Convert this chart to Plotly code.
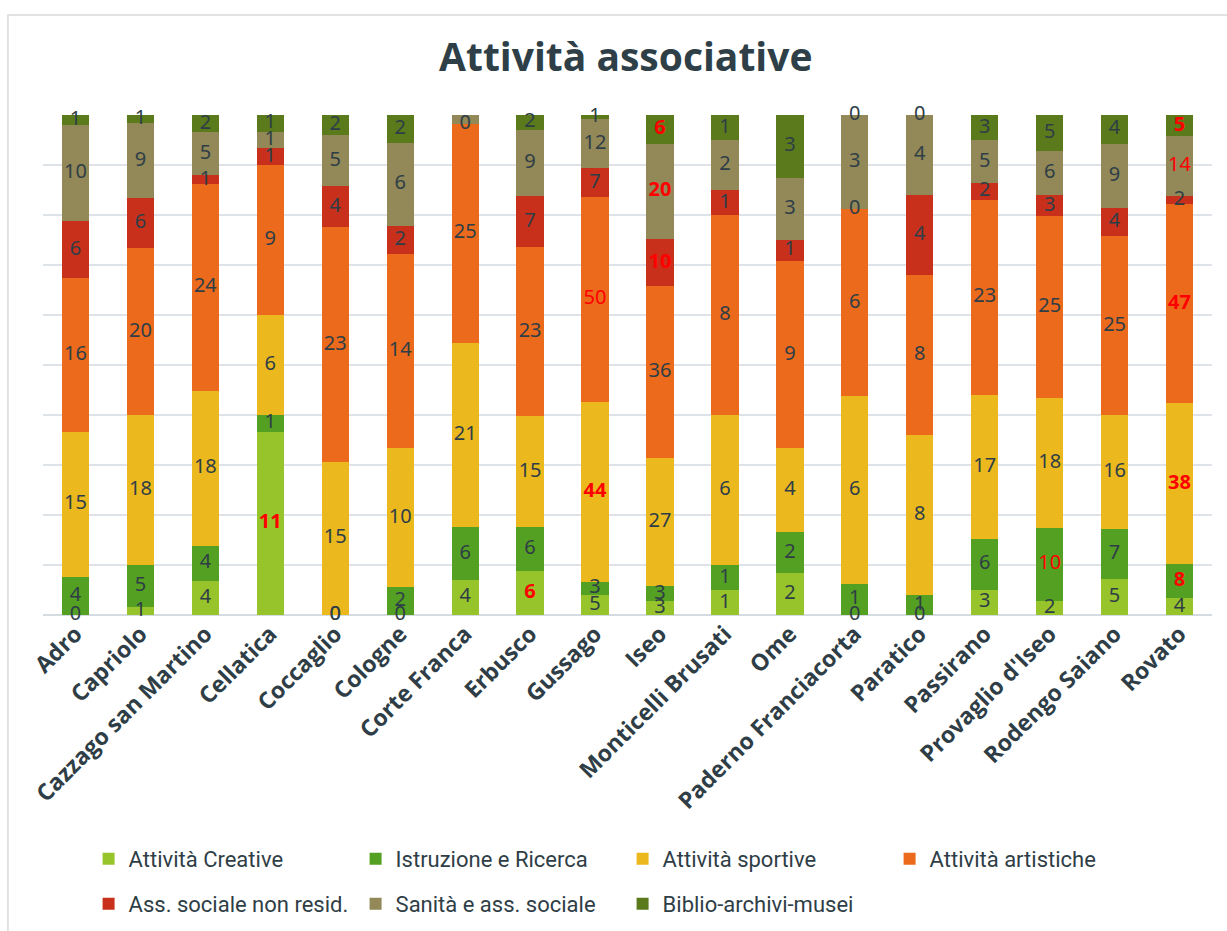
import plotly.graph_objects as go

towns = ["Adro", "Capriolo", "Cazzago san Martino", "Cellatica", "Coccaglio", "Cologne",
         "Corte Franca", "Erbusco", "Gussago", "Iseo", "Monticelli Brusati", "Ome",
         "Paderno Franciacorta", "Paratico", "Passirano", "Provaglio d'Iseo",
         "Rodengo Saiano", "Rovato"]

creative    = [0, 1, 4, 11, 0, 0, 4, 6, 5, 3, 1, 2, 0, 0, 3, 2, 5, 4]
istruzione  = [4, 5, 4, 1, 0, 2, 6, 6, 3, 3, 1, 2, 1, 1, 6, 10, 7, 8]
sportive    = [15, 18, 18, 6, 15, 10, 21, 15, 44, 27, 6, 4, 6, 8, 17, 18, 16, 38]
artistiche  = [16, 20, 24, 9, 23, 14, 25, 23, 50, 36, 8, 9, 6, 8, 23, 25, 25, 47]
ass_sociale = [6, 6, 1, 1, 4, 2, 0, 7, 7, 10, 1, 1, 0, 4, 2, 3, 4, 2]
sanita      = [10, 9, 5, 1, 5, 6, 1, 9, 12, 20, 2, 3, 3, 4, 5, 6, 9, 14]
biblio      = [1, 1, 2, 1, 2, 2, 0, 2, 1, 6, 1, 3, 0, 0, 3, 5, 4, 5]

series_names = ["Attività Creative", "Istruzione e Ricerca", "Attività sportive",
                "Attività artistiche", "Ass. sociale non resid.", "Sanità e ass. sociale",
                "Biblio-archivi-musei"]
series_values = [creative, istruzione, sportive, artistiche, ass_sociale, sanita, biblio]
series_colors = ["#97c42a", "#54a022", "#ebb81e", "#ec6a1c", "#c9301c", "#928858", "#5a7a1c"]

# labels shown in red: (town, series index) -> bold
red_labels = {
    ("Cellatica", 0): True, ("Erbusco", 0): True,
    ("Gussago", 2): True, ("Gussago", 3): False,
    ("Iseo", 4): True, ("Iseo", 5): True, ("Iseo", 6): True,
    ("Provaglio d'Iseo", 1): False,
    ("Rovato", 1): True, ("Rovato", 2): True, ("Rovato", 3): True,
    ("Rovato", 5): False, ("Rovato", 6): True,
}

# thin segments at the top of Corte Franca: labels lifted above the bar
lifted_labels = {
    ("Corte Franca", 5): "middle right",
    ("Corte Franca", 6): "middle left",
}

DARK = "#2f3e46"
totals = [sum(v[i] for v in series_values) for i in range(len(towns))]

fig = go.Figure()

# stacked 100% bars
for si, (name, vals, col) in enumerate(zip(series_names, series_values, series_colors)):
    fig.add_trace(go.Bar(x=towns, y=vals, name=name, marker=dict(color=col, line=dict(width=0)),
                         width=0.42, hoverinfo="x+y+name",
                         legend="legend" if si < 4 else "legend2"))

# value labels centred in each segment (percent scale)
cum = [0.0] * len(towns)
for si, vals in enumerate(series_values):
    ys, texts, colors, positions = [], [], [], []
    for i, t in enumerate(towns):
        pct = 100.0 * vals[i] / totals[i]
        key = (t, si)
        if key in lifted_labels:
            ys.append(103.6)
            positions.append(lifted_labels[key])
        else:
            ys.append(cum[i] + pct / 2)
            positions.append("middle center")
        cum[i] += pct
        if key in red_labels:
            txt = str(vals[i])
            texts.append(f"<b>{txt}</b>" if red_labels[key] else txt)
            colors.append("#ff0000")
        else:
            texts.append(str(vals[i]))
            colors.append(DARK)
    fig.add_trace(go.Scatter(x=towns, y=ys, mode="text", text=texts, textposition=positions,
                             textfont=dict(family="Noto Sans", size=20, color=colors),
                             showlegend=False, hoverinfo="skip", cliponaxis=False))

legend_font = dict(family="Roboto", size=22, color=DARK)
common_legend = dict(orientation="h", xanchor="left", yanchor="middle", font=legend_font,
                     entrywidth=222, entrywidthmode="pixels", traceorder="normal",
                     itemwidth=30, bgcolor="rgba(0,0,0,0)")

fig.update_layout(
    barmode="stack",
    barnorm="percent",
    width=1227, height=931,
    margin=dict(l=43, r=15, t=115, b=316, autoexpand=False),
    paper_bgcolor="white", plot_bgcolor="white",
    title=dict(text="<b>Attività associative</b>", x=0.51, xanchor="center", y=0.938, yanchor="middle",
               font=dict(family="Open Sans", size=39, color="#2e3f48")),
    xaxis=dict(type="category", tickangle=-45, showgrid=False, showline=False, ticks="",
               tickfont=dict(family="Open Sans", size=23, color=DARK, weight="bold"),
               range=[-0.5, 17.5], automargin=False),
    yaxis=dict(range=[0, 100], dtick=10, showticklabels=False, showgrid=True,
               gridcolor="#dde3e8", gridwidth=2, zeroline=True, zerolinecolor="#d5dce1",
               zerolinewidth=2, fixedrange=True, automargin=False),
    legend=dict(x=0.039, y=-0.488, **common_legend),
    legend2=dict(x=0.039, y=-0.578, **common_legend),
    shapes=[dict(type="rect", xref="paper", yref="paper", x0=-0.03, x1=1.03, y0=-0.7, y1=1.2,
                 line=dict(color="#d9d9d9", width=1.5), fillcolor="rgba(0,0,0,0)", layer="below")],
    showlegend=True,
)

fig.write_html("out.html")
